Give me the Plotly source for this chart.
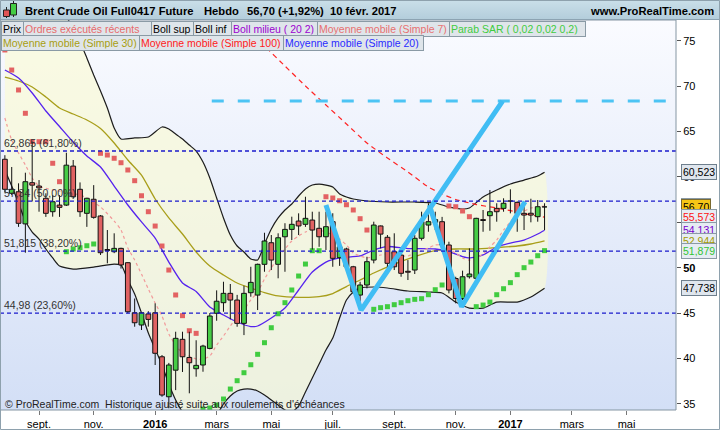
import base64
import pandas as pd
import plotly.graph_objects as go

# ---------------- data ----------------
weeks = pd.date_range("2015-08-03", periods=80, freq="W-MON")

open_ = [61.95, 58.2, 58.37, 54.83, 59.37, 59.0, 57.65, 56.17, 56.9, 56.9,
         61.2, 58.64, 55.99, 57.54, 55.7, 52.0, 51.76, 52.13, 50.55, 45.03,
         43.68, 44.9, 45.03, 40.18, 35.77, 38.7, 42.1, 40.1, 38.86, 39.27,
         41.1, 44.97, 46.14, 47.17, 46.43, 43.86, 47.24, 46.98, 50.37, 52.75,
         50.37, 53.41, 54.22, 55.14, 54.78, 55.25, 54.34, 53.41, 55.07, 51.1,
         52.06, 50.1, 46.98, 48.09, 50.84, 54.6, 53.35, 51.76, 51.39, 49.6,
         49.74, 53.24, 54.7, 55.0, 55.07, 52.5, 48.8, 46.6, 49.0, 48.83,
         55.3, 55.73, 56.54, 56.54, 57.4, 57.2, 55.99, 56.0, 55.62, 56.72]
high = [62.4, 61.1, 59.3, 60.47, 63.9, 59.66, 58.2, 58.0, 58.0, 62.67,
        61.87, 59.4, 57.7, 59.1, 55.8, 54.15, 53.79, 52.2, 50.6, 46.6,
        45.1, 45.2, 46.07, 40.37, 39.5, 42.94, 42.94, 42.94, 42.0, 41.5,
        45.0, 47.5, 48.45, 48.2, 47.0, 48.0, 50.1, 50.45, 53.85, 53.6,
        53.79, 54.9, 55.62, 55.99, 57.82, 56.17, 56.17, 56.17, 56.0, 53.0,
        52.2, 50.2, 48.45, 51.2, 55.07, 54.65, 53.6, 53.79, 52.1, 50.84,
        53.6, 56.17, 57.1, 56.17, 55.6, 52.86, 49.0, 49.67, 52.13, 55.5,
        56.36, 58.56, 57.1, 57.65, 58.64, 57.3, 57.27, 57.6, 57.46, 57.1]
low = [58.3, 58.0, 54.5, 51.65, 57.3, 56.17, 55.6, 55.62, 55.6, 56.8,
       57.65, 55.6, 54.5, 55.4, 51.4, 50.48, 51.6, 49.9, 44.97, 43.49,
       43.13, 43.5, 39.27, 35.77, 34.5, 36.5, 38.5, 36.15, 37.98, 38.53,
       41.0, 44.15, 45.14, 44.3, 43.49, 42.57, 46.8, 45.33, 49.55, 49.74,
       48.83, 49.55, 53.05, 53.6, 54.5, 52.0, 52.3, 51.95, 50.1, 50.2,
       49.74, 47.17, 46.25, 47.72, 50.48, 52.13, 49.93, 49.74, 49.0, 48.64,
       49.3, 53.0, 53.96, 54.15, 52.0, 47.17, 46.07, 46.43, 48.8, 48.7,
       53.96, 54.07, 55.07, 56.17, 55.99, 53.96, 54.15, 55.0, 55.07, 54.15]
close = [58.64, 58.64, 54.89, 59.48, 59.1, 58.8, 55.99, 57.27, 56.65, 61.3,
         57.82, 56.17, 57.65, 55.55, 51.65, 51.9, 52.13, 50.3, 45.14, 43.93,
         45.03, 44.3, 40.56, 35.96, 39.27, 42.21, 40.18, 39.52, 39.23, 41.36,
         44.67, 46.3, 47.17, 46.43, 43.86, 47.17, 48.38, 50.37, 52.94, 50.84,
         53.3, 54.22, 54.78, 54.6, 55.44, 54.15, 53.41, 54.52, 51.03, 52.3,
         50.1, 47.35, 48.09, 50.66, 54.7, 53.7, 50.48, 50.1, 49.38, 49.5,
         53.24, 55.07, 55.07, 55.3, 52.5, 47.54, 46.6, 49.0, 49.3, 55.44,
         55.2, 56.17, 56.17, 57.1, 57.35, 55.99, 55.8, 55.8, 56.72, 56.70]

sar = [74.0, 71.79, 69.59, 67.02, 63.89, 63.89, 63.89, 61.51, 59.48, 51.76,
       52.06, 52.2, 52.42, 52.61, 62.61, 62.42, 62.06, 61.57, 60.77, 59.59,
       57.93, 56.17, 54.59, 52.39, 49.74, 46.99, 44.71, 43.05, 42.76, 34.42,
       34.53, 34.86, 35.52, 36.62, 37.54, 38.42, 39.3, 40.45, 41.73, 43.38,
       44.92, 46.14, 47.54, 49.08, 50.4, 51.87, 51.87, 57.82, 57.68, 57.38,
       56.94, 56.36, 55.4, 54.15, 45.41, 45.59, 45.7, 45.92, 46.14, 46.36,
       46.51, 46.58, 47.02, 47.57, 48.09, 56.8, 56.72, 56.25, 55.62, 45.7,
       45.88, 46.21, 47.02, 47.68, 48.35, 49.23, 50.0, 50.62, 51.32, 51.879]

bb_up_idx = [0, 5, 9, 11, 12, 13, 14, 15, 16, 17, 19, 21, 23,
             24, 25, 26, 27, 28, 29, 30, 31, 32, 33, 34, 35, 36, 37, 38, 39,
             40, 41, 42, 43, 44, 45, 46, 47, 48, 49, 50, 51,
             53, 56, 60, 63, 65, 67, 68, 70, 72, 74, 76, 78, 79]
bb_up = [80.0, 79.5, 77.6, 74.88, 73.12, 71.24, 69.48, 67.6, 65.4, 64.19, 64.3, 64.41, 65.51,
         65.29, 64.74, 64.19, 63.52, 62.86, 61.65, 59.89, 57.68, 55.48, 53.6, 52.39, 51.73, 50.96, 50.85, 52.61, 54.26,
         55.48, 56.36, 57.02, 57.9, 58.67, 59.11, 59.22, 59.11, 58.89, 58.12, 57.79, 57.57,
         57.35, 57.24, 57.24, 57.13, 56.69, 56.47, 56.58, 57.79, 58.56, 59.22, 59.66, 60.11, 60.523]

bb_lo_idx = [0, 1, 2, 3, 4, 5, 6, 7, 8, 10, 13, 16,
             17, 18, 19, 20, 21, 22, 23, 24, 25, 26, 27, 29,
             31, 32, 33, 34, 35, 36, 37, 38, 39, 40, 41, 42, 43, 44, 45, 46, 47, 48, 49, 50, 51, 52,
             54, 56, 59, 62, 64, 66, 68, 70, 72, 75, 77, 79]
bb_lo = [60.77, 59.0, 57.13, 55.14, 53.93, 53.16, 52.06, 51.07, 50.18, 49.85, 50.07, 50.4,
         50.29, 48.64, 47.1, 45.0, 42.8, 41.03, 39.27, 37.17, 35.41, 34.09, 33.2, 32.65,
         33.76, 34.97, 35.85, 36.4, 36.62, 36.62, 36.4, 35.96, 35.41, 34.86, 34.31, 34.09, 34.75, 36.29,
         37.84, 39.38, 40.92, 42.24, 44.45, 46.43, 47.32, 47.76,
         47.87, 47.76, 47.43, 47.32, 47.21, 46.21, 45.55, 45.55, 46.21, 46.21, 46.77, 47.738]

ma7_idx = [0, 1, 2, 3, 4, 5, 7, 9, 11, 12, 14,
           16, 17, 18, 19, 20, 21, 22, 23, 24, 25, 26, 27, 28, 29, 30, 31, 32, 33, 34, 35,
           36, 37, 38, 39, 40, 41, 42, 43, 44, 45, 46, 47, 48, 49, 50, 51, 52, 53,
           55, 57, 58, 59, 60, 61, 62, 63, 64, 65, 66, 67, 68, 69, 70, 71, 72, 73, 74, 75,
           76, 77, 78, 79]
ma7 = [66.5, 64.07, 62.64, 61.32, 59.89, 59.0, 58.56, 58.34, 58.01, 57.68, 56.69,
       55.14, 54.15, 52.17, 50.84, 49.3, 47.65, 46.1, 44.67, 42.68, 41.47, 40.59, 40.26, 39.93, 39.93,
       40.26, 41.47, 42.47, 43.57, 44.56, 45.33,
       46.44, 47.32, 48.75, 49.96, 51.18, 52.06, 52.94, 53.49, 53.93, 54.15, 54.15, 53.93, 53.6, 53.16,
       52.5, 51.62, 51.29, 51.07,
       51.4, 51.62, 51.29, 51.29, 51.62, 51.84, 52.17, 52.5, 52.5, 52.06, 51.62, 51.07, 50.84, 51.07,
       51.51, 52.28, 53.05, 54.15, 55.03, 56.03, 56.25, 56.58, 56.69, 56.8]

ma20_idx = [0, 2, 4, 6, 8, 10, 12, 14, 16, 18, 20, 22, 24, 26, 28, 30, 32, 34, 36,
            37, 39, 41, 43, 45, 47, 49, 52, 54, 56, 59, 63, 65, 67, 68, 70, 72, 74, 76, 78, 79]
ma20 = [71.79, 70.91, 69.26, 67.27, 65.56, 63.85, 62.31, 61.1, 59.0, 56.91, 55.04, 53.27, 50.62,
        48.31, 47.37, 45.66, 44.78, 44.01, 43.51,
        43.57, 44.45, 45.55, 47.54, 49.52, 50.62, 51.07, 51.29, 51.95, 52.33, 52.11, 52.06, 51.78,
        51.23, 51.07, 51.4, 52.28, 52.72, 53.05, 53.71, 54.131]

ma30_idx = [0, 2, 4, 6, 8, 10, 12, 14, 16, 18, 20, 22, 24, 26, 28, 30, 32, 34, 36, 38, 40,
            43, 46, 48, 50, 52, 54, 57, 60, 63, 66, 69, 72, 75, 77, 79]
ma30 = [71.0, 70.58, 69.92, 68.82, 67.6, 66.94, 66.28, 65.34, 63.74, 61.87, 60.2, 57.57, 55.48,
        53.71, 51.73, 50.18, 49.19, 48.31, 47.76, 47.26, 46.88,
        46.73, 46.8, 47.15, 47.92, 48.64, 49.41, 50.4, 51.23, 51.89, 52.06, 52.06, 52.22, 52.39,
        52.61, 52.944]

ma100_idx = [0, 10, 20, 30, 38, 41, 44, 47, 50, 53, 56, 59, 62, 64, 66, 69, 72, 75, 77, 79]
ma100 = [95.0, 90.0, 85.0, 80.5, 74.44, 72.23, 70.03, 67.93, 65.84, 63.74, 62.09, 60.55, 58.89,
         58.12, 57.52, 56.96, 56.58, 56.14, 55.81, 55.573]

fib_levels = [62.865, 57.34, 51.815, 44.98]
fib_labels = ["62,865 (61,80%)", "57,34 (50,00%)", "51,815 (38,20%)", "44,98 (23,60%)"]

target_level = 68.37
target_dates = ["2016-03-02", "2017-06-11"]
zig1_dates = ["2016-06-27", "2016-08-02", "2016-12-25"]
zig1_vals = [56.91, 45.33, 68.37]
zig2_dates = ["2016-10-11", "2016-11-13", "2017-01-17"]
zig2_vals = [56.91, 45.7, 57.27]

tick_dates = ["2015-09-07", "2015-11-02", "2016-01-04", "2016-03-07", "2016-05-02", "2016-07-04",
              "2016-09-05", "2016-11-07", "2017-01-02", "2017-03-06", "2017-05-01"]
tick_text = ["sept.", "nov.", "<b>2016</b>", "mars", "mai", "juil.", "sept.", "nov.",
             "<b>2017</b>", "mars", "mai"]
y_ticks = [35, 40, 45, 50, 55, 60, 65, 70, 75]
y_tick_text = ["35", "40", "45", "<b>50</b>", "55", "60", "65", "70", "75"]

legend_row1 = [("Prix", "#000000"), ("Ordres exécutés récents", "#e86a6a"), ("Boll sup", "#000000"),
               ("Boll inf", "#000000"), ("Boll milieu ( 20 2)", "#9b00d0"),
               ("Moyenne mobile (Simple 7)", "#e87070"), ("Parab SAR ( 0,02 0,02 0,2)", "#3fcc3f")]
legend_row2 = [("Moyenne mobile (Simple 30)", "#a89e10"), ("Moyenne mobile (Simple 100)", "#ff1a1a"),
               ("Moyenne mobile (Simple 20)", "#2a2aff")]

# ---------------- helpers (pixel -> paper) ----------------
PL, PT, PW, PH = 0, 20, 676, 390


def pxx(x):
    return (x - PL) / PW


def pxy(y):
    return 1 - (y - PT) / PH


def wk(idx):
    return [weeks[i] for i in idx]


FONT = "Arial, 'Liberation Sans', sans-serif"

fig = go.Figure()

# Bollinger band fill
up_x, lo_x = wk(bb_up_idx), wk(bb_lo_idx)
fig.add_trace(go.Scatter(x=up_x + lo_x[::-1], y=bb_up + bb_lo[::-1], mode="lines", fill="toself",
                         fillcolor="rgba(250,250,212,0.65)", line=dict(width=0, shape="spline", smoothing=0.6),
                         hoverinfo="skip"))
for xs, ys in ((up_x, bb_up), (lo_x, bb_lo)):
    fig.add_trace(go.Scatter(x=xs, y=ys, mode="lines",
                             line=dict(color="#1c1c1c", width=1.2, shape="spline", smoothing=0.6)))

# moving averages
fig.add_trace(go.Scatter(x=wk(ma30_idx), y=ma30, mode="lines",
                         line=dict(color="#a89e1a", width=1.3, shape="spline", smoothing=0.6)))
fig.add_trace(go.Scatter(x=wk(ma20_idx), y=ma20, mode="lines",
                         line=dict(color="#5522ee", width=1.3, shape="spline", smoothing=0.6)))
fig.add_trace(go.Scatter(x=wk(ma100_idx), y=ma100, mode="lines",
                         line=dict(color="#ff2424", width=1.2, dash="5px,4px", shape="spline", smoothing=0.4)))
fig.add_trace(go.Scatter(x=wk(ma7_idx), y=ma7, mode="lines",
                         line=dict(color="#f29a9a", width=1.2, dash="3px,3px", shape="spline", smoothing=0.6)))

# Parabolic SAR
sar_colors = ["#e36262" if s > c else "#40cc40" for s, c in zip(sar, close)]
fig.add_trace(go.Scatter(x=weeks, y=sar, mode="markers",
                         marker=dict(symbol="square", size=5, color=sar_colors, line=dict(width=0))))

# candles (wicks + bodies, drawn as scatter so they sit above the band fill)
half = pd.Timedelta(days=2.45)
wick_x, wick_y = [], []
bodies = {True: ([], []), False: ([], [])}
for t, o, h, l, c in zip(weeks, open_, high, low, close):
    top, bot = max(o, c), min(o, c)
    wick_x += [t, t, None, t, t, None]
    wick_y += [h, top, None, bot, l, None]
    bx, by = bodies[c >= o]
    bx += [t - half, t + half, t + half, t - half, t - half, None]
    by += [bot, bot, top, top, bot, None]
fig.add_trace(go.Scatter(x=wick_x, y=wick_y, mode="lines", line=dict(color="#111111", width=1),
                         hoverinfo="skip"))
for rising, col in ((True, "#46cc46"), (False, "#e06262")):
    bx, by = bodies[rising]
    fig.add_trace(go.Scatter(x=bx, y=by, mode="lines", fill="toself", fillcolor=col,
                             line=dict(color="#111111", width=1), hoverinfo="skip"))

# drawings
fig.add_trace(go.Scatter(x=target_dates, y=[target_level] * 2, mode="lines",
                         line=dict(color="#4cc4f4", width=3, dash="12px,14px")))
for dx, dy in ((zig1_dates, zig1_vals), (zig2_dates, zig2_vals)):
    fig.add_trace(go.Scatter(x=dx, y=dy, mode="lines", line=dict(color="#40bdf4", width=5)))

shapes = []
for lvl in fib_levels:
    shapes.append(dict(type="line", xref="paper", x0=0, x1=1, yref="y", y0=lvl, y1=lvl,
                       line=dict(color="#1b1bcc", width=1.3, dash="4px,3px"), layer="above"))
# plot border
shapes.append(dict(type="rect", xref="paper", yref="paper", x0=0, x1=1, y0=0, y1=1,
                   line=dict(color="#8596a3", width=1), layer="above"))
# header bottom line and frame
shapes.append(dict(type="line", xref="paper", yref="paper", x0=pxx(0), x1=pxx(720), y0=pxy(19.5), y1=pxy(19.5),
                   line=dict(color="#8ca3b2", width=1)))
shapes.append(dict(type="rect", xref="paper", yref="paper", x0=pxx(0.5), x1=pxx(719.5), y0=pxy(429.5),
                   y1=pxy(0.5), line=dict(color="#8ea1ad", width=1)))
# icon
shapes += [
    dict(type="line", xref="paper", yref="paper", x0=pxx(6.5), x1=pxx(6.5), y0=pxy(7), y1=pxy(18),
         line=dict(color="#222", width=1)),
    dict(type="rect", xref="paper", yref="paper", x0=pxx(3.5), x1=pxx(9.5), y0=pxy(10), y1=pxy(16.5),
         fillcolor="#e05555", line=dict(color="#222", width=1)),
    dict(type="line", xref="paper", yref="paper", x0=pxx(13.5), x1=pxx(13.5), y0=pxy(1), y1=pxy(17),
         line=dict(color="#222", width=1)),
    dict(type="rect", xref="paper", yref="paper", x0=pxx(10.5), x1=pxx(16.5), y0=pxy(3.5), y1=pxy(15),
         fillcolor="#44cc44", line=dict(color="#222", width=1)),
]

ann = []
# fib labels
for lvl, txt in zip(fib_levels, fib_labels):
    ann.append(dict(x=pxx(2), xref="paper", y=lvl, yref="y", xanchor="left", yanchor="bottom", yshift=0,
                    text=txt, showarrow=False, font=dict(size=10.5, color="#333333")))

# title bar texts
for x, txt in ((23, "Brent Crude Oil Full0417 Future"), (202, "Hebdo"), (245, "56,70 (+1,92%)"),
               (328, "10 févr. 2017")):
    ann.append(dict(x=pxx(x), y=pxy(10.5), xref="paper", yref="paper", xanchor="left", yanchor="middle",
                    text="<b>%s</b>" % txt, showarrow=False, font=dict(size=11.2, color="#000")))
ann.append(dict(x=pxx(716), y=pxy(10.5), xref="paper", yref="paper", xanchor="right", yanchor="middle",
                text="<b>www.ProRealTime.com</b>", showarrow=False, font=dict(size=11.2, color="#000")))

# legend boxes
row1_x = [1, 22.7, 150.7, 193, 230.7, 316.7, 449.3, 585]
row2_x = [1, 139, 283.3, 423.3]
for row, xs, top in ((legend_row1, row1_x, 21), (legend_row2, row2_x, 35.5)):
    for (txt, col), x0, x1 in zip(row, xs[:-1], xs[1:]):
        ann.append(dict(x=pxx(x0), y=pxy(top), xref="paper", yref="paper", xanchor="left", yanchor="top",
                        text=txt, showarrow=False, align="left", width=x1 - x0 - 3, height=11.5,
                        bgcolor="#dfe5ea", bordercolor="#8a9aa5", borderwidth=1, borderpad=1,
                        font=dict(size=10.5, color=col)))

# right-side value boxes
right_boxes = [
    (ma7[-1], "%.2f" % ma7[-1], "#e87070", "#e6ecf3", "#8a9aa5"),
    (bb_up[-1], "%.3f" % bb_up[-1], "#000000", "#dfe6ee", "#6f7f8d"),
    (close[-1], "%.2f" % close[-1], "#000000", "#f6c617", "#7a6a30"),
    (ma100[-1], "%.3f" % ma100[-1], "#ff1010", "#e6ecf3", "#8a9aa5"),
    (ma20[-1], "%.3f" % ma20[-1], "#7700cc", "#e6ecf3", "#8a9aa5"),
    (ma30[-1], "%.3f" % ma30[-1], "#a39a00", "#e6ecf3", "#8a9aa5"),
    (sar[-1], "%.3f" % sar[-1], "#33c433", "#e6ecf3", "#8a9aa5"),
    (bb_lo[-1], "%.3f" % bb_lo[-1], "#000000", "#dfe6ee", "#6f7f8d"),
]
for val, txt, col, bg, bd in right_boxes:
    ann.append(dict(x=pxx(681), xref="paper", y=val, yref="y", xanchor="left", yanchor="middle",
                    text=txt.replace(".", ","), showarrow=False, align="left", height=11.5,
                    bgcolor=bg, bordercolor=bd, borderwidth=1, borderpad=1, font=dict(size=10.5, color=col)))

# footer text inside plot
ann.append(dict(x=pxx(3), y=pxy(404), xref="paper", yref="paper", xanchor="left", yanchor="middle",
                text="© ProRealTime.com  Historique ajusté suite aux roulements d'échéances",
                showarrow=False, font=dict(size=10.5, color="#222222")))

# background gradients
plot_svg = ('<svg xmlns="http://www.w3.org/2000/svg" width="10" height="100" preserveAspectRatio="none">'
            '<defs><linearGradient id="g" x1="0" y1="0" x2="0" y2="1">'
            '<stop offset="0" stop-color="#fafbff"/><stop offset="1" stop-color="#d3dff6"/>'
            '</linearGradient></defs><rect width="10" height="100" fill="url(#g)"/></svg>')
head_svg = ('<svg xmlns="http://www.w3.org/2000/svg" width="10" height="20" preserveAspectRatio="none">'
            '<defs><linearGradient id="h" x1="0" y1="0" x2="0" y2="1">'
            '<stop offset="0" stop-color="#cadfe9"/><stop offset="1" stop-color="#b3cddb"/>'
            '</linearGradient></defs><rect width="10" height="20" fill="url(#h)"/></svg>')


def uri(s):
    return "data:image/svg+xml;base64," + base64.b64encode(s.encode()).decode()


images = [
    dict(source=uri(plot_svg), xref="paper", yref="paper", x=0, y=1, sizex=1, sizey=1,
         sizing="stretch", layer="below", xanchor="left", yanchor="top"),
    dict(source=uri(head_svg), xref="paper", yref="paper", x=pxx(0), y=pxy(0), sizex=pxx(720),
         sizey=pxy(0) - pxy(19.5), sizing="stretch", layer="below", xanchor="left", yanchor="top"),
]

x0 = weeks[0] - pd.Timedelta(days=5.0)
x1 = weeks[0] + pd.Timedelta(days=687.7)

fig.update_layout(
    width=720, height=430, margin=dict(l=0, r=44, t=20, b=20),
    paper_bgcolor="white", plot_bgcolor="rgba(0,0,0,0)", showlegend=False,
    font=dict(family=FONT, size=11, color="#000"),
    shapes=shapes, annotations=ann, images=images,
    xaxis=dict(type="date", range=[x0, x1], tickvals=tick_dates, ticktext=tick_text, ticks="outside",
               ticklen=4, tickcolor="#777", showgrid=False, zeroline=False, showline=False,
               automargin=False, tickfont=dict(size=11, color="#000")),
    yaxis=dict(side="right", range=[34.31, 77.305], tickvals=y_ticks, ticktext=y_tick_text,
               ticks="outside", ticklen=4, tickcolor="#555", showgrid=False, zeroline=False,
               automargin=False, showline=False, tickfont=dict(size=11, color="#000")),
)

fig.write_html("out.html", config={"displayModeBar": False, "staticPlot": True},
               post_script="document.body.style.margin='0';document.body.style.padding='0';"
                           "document.body.style.overflow='hidden';")
